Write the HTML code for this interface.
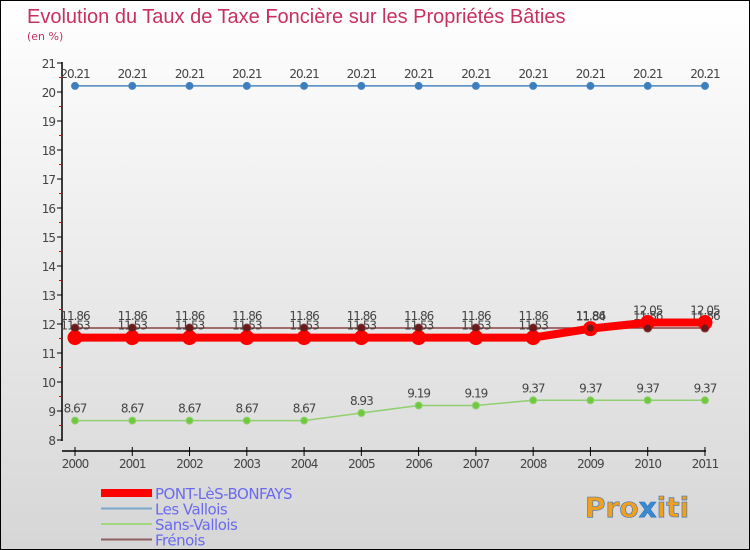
<!DOCTYPE html>
<html><head><meta charset="utf-8"><style>
body{margin:0}
#c{position:relative;width:748px;height:548px;border:1px solid #000;background:linear-gradient(#fff,#d6d6d6);font-family:"DejaVu Sans","Liberation Sans",sans-serif;overflow:hidden}
text{font-family:"DejaVu Sans","Liberation Sans",sans-serif}
</style></head><body>
<div id="c">
<svg id="s" width="748" height="548">
<text x="26" y="22" font-size="20" fill="#c8305f" style="font-family:'Liberation Sans',sans-serif">Evolution du Taux de Taxe Foncière sur les Propriétés Bâties</text>
<text x="26" y="39" font-size="11" fill="#c8305f">(en %)</text>
<g id="g"></g>
<text x="584" y="516" font-size="28" font-weight="bold" fill="#f0a020" stroke="#3070c0" stroke-width="0.6">Pro<tspan fill="#3a8ad0">x</tspan>iti</text>
</svg></div>
<script>
const years=[2000,2001,2002,2003,2004,2005,2006,2007,2008,2009,2010,2011];
const yTicks=[8,9,10,11,12,13,14,15,16,17,18,19,20,21];
const pont=[11.53,11.53,11.53,11.53,11.53,11.53,11.53,11.53,11.53,11.84,12.05,12.05];
const vallois=[20.21,20.21,20.21,20.21,20.21,20.21,20.21,20.21,20.21,20.21,20.21,20.21];
const sans=[8.67,8.67,8.67,8.67,8.67,8.93,9.19,9.19,9.37,9.37,9.37,9.37];
const frenois=[11.86,11.86,11.86,11.86,11.86,11.86,11.86,11.86,11.86,11.86,11.86,11.86];
const NS='http://www.w3.org/2000/svg',g=document.getElementById('g');
const X=i=>74+i*57.27, Y=v=>439-(v-8)*29.0;
function el(t,a,p){const e=document.createElementNS(NS,t);for(const k in a)e.setAttribute(k,a[k]);(p||g).appendChild(e);return e;}
let ax=el('path',{d:'M61 61V440M61 450H705',stroke:'#000','stroke-width':1.5,fill:'none'});


yTicks.forEach(v=>{
 el('line',{x1:56,x2:61,y1:Y(v),y2:Y(v),stroke:'#000'});
 if(v<21)el('line',{x1:58,x2:61,y1:Y(v+0.5),y2:Y(v+0.5),stroke:'#e00'});
 let t=el('text',{x:54,y:Y(v)+5,'font-size':12,'text-anchor':'end',fill:'#444','letter-spacing':'-1'});t.textContent=v;
 
 
});
years.forEach((y,i)=>{
 el('line',{x1:X(i),x2:X(i),y1:446,y2:455,stroke:'#000'});
 let t=el('text',{x:X(i),y:467,'font-size':12,'text-anchor':'middle',fill:'#444','letter-spacing':'-1'});t.textContent=y;
 
 
});
function series(d,col,w,r,dot,name,lab){
 let p=el('polyline',{points:d.map((v,i)=>X(i)+','+Y(v)).join(' '),stroke:col,'stroke-width':w,fill:'none'});
 
 
 d.forEach((v,i)=>{
  let c=el('circle',{cx:X(i),cy:Y(v),r:r,fill:dot,stroke:col,'stroke-width':1});
  
  
  if(lab){let t=el('text',{x:X(i),y:Y(v)-8,'font-size':12,'text-anchor':'middle',fill:'#444','letter-spacing':'-1'});t.textContent=(''+v).replace(/^(\d+)\.(\d)$/,'$1.$20');
  
  }
 });
}
series(vallois,'#4a86c0',1.5,3.5,'#3a7ec0','les-vallois',1);
series(sans,'#90d070',1.5,3.5,'#70c840','sans-vallois',1);
series(frenois,'#884444',1.5,4,'#6a1a1a','frenois',1);
series(pont,'#f00',8,7,'#f00','pont-les-bonfays',1);
frenois.forEach((v,i)=>{let c=el('circle',{cx:X(i),cy:Y(v),r:3.5,fill:'#6a1a1a'});

});
const leg=[['PONT-LèS-BONFAYS','#f00',8],['Les Vallois','#7aa8cc',2],['Sans-Vallois','#a0d880',2],['Frénois','#906060',2]];
leg.forEach((l,i)=>{const y=492+i*15.5;
 let ln=el('line',{x1:100,x2:151,y1:y,y2:y,stroke:l[1],'stroke-width':l[2]});
 
 
 let t=el('text',{x:154,y:y+6,'font-size':15,fill:'#6a6af0','letter-spacing':'-0.5'});t.textContent=l[0];
 
 
});
</script></body></html>
